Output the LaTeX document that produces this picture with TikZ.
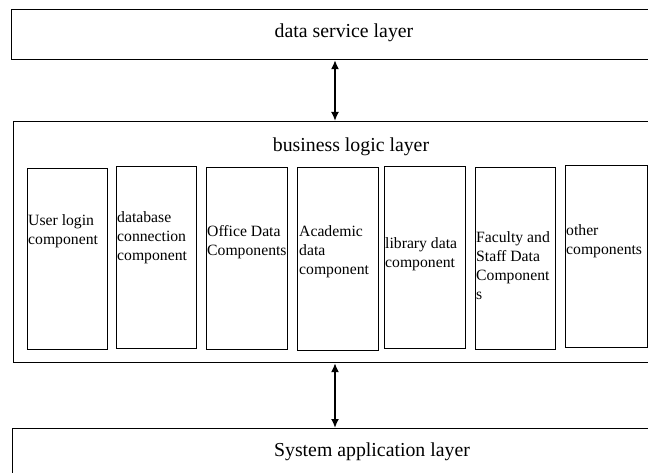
\documentclass[tikz,border=0pt]{standalone}
\usepackage{fontspec}
\setmainfont{Liberation Serif}
\usetikzlibrary{arrows.meta}
\begin{document}
\begin{tikzpicture}[x=1pt,y=-1pt,
  layer/.style={draw, line width=1.1pt, rectangle, inner sep=0pt, anchor=north west},
  comp/.style={draw, line width=1pt, rectangle, inner sep=0pt, anchor=north west, minimum width=80pt},
  ctext/.style={inner sep=0pt, anchor=west, align=left, font=\fontsize{15.7}{19}\selectfont},
  htext/.style={inner sep=0pt, font=\fontsize{19.8}{24}\selectfont},
  biarrow/.style={{Latex[length=9pt,width=8pt]}-{Latex[length=9pt,width=8pt]}, line width=1.8pt}]
\useasboundingbox (0,0) rectangle (648,473);
% layers
\node[layer, minimum width=660pt, minimum height=50pt] (dsl) at (11,9) {};
\node[layer, minimum width=660pt, minimum height=241pt] (bll) at (13,121) {};
\node[layer, minimum width=660pt, minimum height=60pt] (sal) at (12,428) {};
\node[htext] (dslt) at (344,33) {data service layer};
\node[htext] (bllt) at (351,147) {business logic layer};
\node[htext] (salt) at (372,452) {System application layer};
% arrows
\coordinate (ax) at (335,0);
\draw[biarrow] (dsl.south -| ax) -- (bll.north -| ax);
\draw[biarrow] (bll.south -| ax) -- (sal.north -| ax);
% components
\node[comp, minimum height=181pt] (c1) at (27,168) {};
\node[comp, minimum height=182pt] (c2) at (116,166) {};
\node[comp, minimum height=182pt, minimum width=81pt] (c3) at (206,167) {};
\node[comp, minimum height=183pt, minimum width=81pt] (c4) at (297,167) {};
\node[comp, minimum height=182pt, minimum width=81pt] (c5) at (384,166) {};
\node[comp, minimum height=182pt] (c6) at (475,167) {};
\node[comp, minimum height=182pt, minimum width=82pt] (c7) at (565,165) {};
\node[ctext] (t1) at (28,231) {User login\\component};
\node[ctext] (t2) at (117,238) {database\\connection\\component};
\node[ctext] (t3) at (207,242) {Office Data\\Components};
\node[ctext] (t4) at (299,252) {Academic\\data\\component};
\node[ctext] (t5) at (385,254) {library data\\component};
\node[ctext] (t6) at (476,266) {Faculty and\\Staff Data\\Component\\s};
\node[ctext] (t7) at (566,241) {other\\components};
\end{tikzpicture}
\end{document}
